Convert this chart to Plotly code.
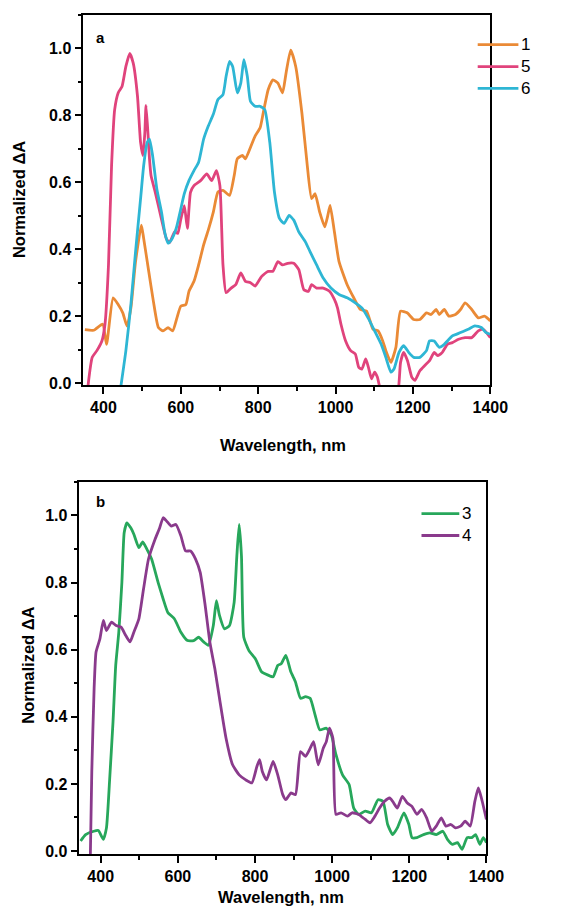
import plotly.graph_objects as go
from plotly.subplots import make_subplots

# ---- Panel a: spectra 1, 5, 6 ----
wl_1 = [352, 375, 398, 408, 425, 438, 450, 461, 471, 483, 498, 504, 517, 529, 542, 554, 567, 579,
        590, 600, 613, 621, 634, 646, 659, 671, 684, 696, 709, 726, 738, 746, 759, 767, 780, 792,
        805, 813, 826, 838, 851, 863, 872, 884, 897, 913, 926, 938, 947, 959, 972, 980, 986, 997,
        1009, 1030, 1047, 1064, 1080, 1097, 1110, 1122, 1130, 1143, 1156, 1168, 1185, 1202, 1218,
        1235, 1247, 1260, 1268, 1281, 1293, 1310, 1323, 1335, 1352, 1369, 1385, 1400]
dA_1 = [0.16, 0.158, 0.176, 0.116, 0.255, 0.235, 0.21, 0.17, 0.225, 0.363, 0.472, 0.432, 0.334,
        0.245, 0.166, 0.156, 0.166, 0.156, 0.195, 0.23, 0.235, 0.274, 0.304, 0.353, 0.413, 0.457,
        0.511, 0.571, 0.576, 0.561, 0.62, 0.67, 0.68, 0.67, 0.704, 0.738, 0.763, 0.807, 0.877,
        0.906, 0.896, 0.867, 0.926, 0.995, 0.946, 0.807, 0.66, 0.551, 0.566, 0.511, 0.467, 0.501,
        0.531, 0.452, 0.363, 0.294, 0.255, 0.22, 0.215, 0.161, 0.156, 0.126, 0.097, 0.062, 0.107,
        0.215, 0.21, 0.19, 0.19, 0.21, 0.205, 0.22, 0.205, 0.22, 0.2, 0.205, 0.22, 0.24, 0.22,
        0.195, 0.2, 0.186]

wl_5 = [355, 371, 383, 396, 404, 413, 421, 429, 438, 448, 458, 468, 477, 488, 496, 502, 507, 510,
        515, 519, 523, 534, 550, 563, 571, 584, 592, 600, 609, 617, 625, 634, 651, 667, 680, 692,
        701, 709, 717, 730, 742, 755, 767, 780, 792, 809, 826, 838, 851, 863, 876, 892, 905, 918,
        930, 938, 951, 968, 985, 997, 1005, 1014, 1026, 1039, 1051, 1060, 1068, 1078, 1085, 1093,
        1101, 1108, 1116, 1140, 1162, 1168, 1176, 1186, 1197, 1205, 1218, 1230, 1243, 1255, 1264,
        1276, 1289, 1302, 1318, 1335, 1352, 1369, 1381, 1400]
dA_5 = [-0.06, 0.077, 0.097, 0.126, 0.176, 0.353, 0.65, 0.817, 0.867, 0.886, 0.946, 0.985, 0.956,
        0.857, 0.719, 0.68, 0.748, 0.83, 0.748, 0.67, 0.62, 0.57, 0.49, 0.43, 0.42, 0.452, 0.447,
        0.49, 0.53, 0.462, 0.57, 0.59, 0.605, 0.625, 0.605, 0.635, 0.59, 0.353, 0.27, 0.284, 0.294,
        0.329, 0.304, 0.3, 0.29, 0.319, 0.334, 0.334, 0.363, 0.353, 0.358, 0.358, 0.339, 0.279,
        0.274, 0.294, 0.284, 0.284, 0.274, 0.25, 0.225, 0.176, 0.126, 0.097, 0.087, 0.047, 0.042,
        0.072, 0.047, 0.013, 0.033, 0.018, -0.02, -0.08, -0.02, 0.062, 0.092, 0.067, 0.018, 0.008,
        0.037, 0.052, 0.067, 0.092, 0.082, 0.092, 0.116, 0.121, 0.131, 0.136, 0.136, 0.156,
        0.161, 0.136]

wl_6 = [440, 458, 471, 483, 496, 504, 513, 519, 527, 538, 550, 559, 567, 575, 588, 600, 609, 621,
        634, 646, 659, 671, 684, 696, 709, 717, 726, 734, 746, 755, 763, 772, 780, 792, 805, 817,
        830, 842, 855, 867, 880, 892, 905, 922, 934, 951, 968, 988, 1009, 1030, 1051, 1068, 1084,
        1101, 1118, 1130, 1143, 1151, 1164, 1176, 1189, 1202, 1218, 1235, 1243, 1255, 1268, 1281,
        1302, 1323, 1343, 1360, 1377, 1389, 1400]
dA_6 = [-0.05, 0.097, 0.235, 0.393, 0.551, 0.65, 0.719, 0.729, 0.68, 0.58, 0.511, 0.447, 0.418,
        0.427, 0.462, 0.521, 0.566, 0.605, 0.635, 0.66, 0.729, 0.768, 0.803, 0.847, 0.862, 0.916,
        0.961, 0.946, 0.867, 0.896, 0.966, 0.916, 0.842, 0.827, 0.827, 0.817, 0.719, 0.571, 0.492,
        0.477, 0.501, 0.487, 0.452, 0.422, 0.393, 0.353, 0.314, 0.284, 0.265, 0.255, 0.24, 0.225,
        0.195, 0.156, 0.116, 0.077, 0.033, 0.042, 0.092, 0.112, 0.092, 0.077, 0.077, 0.097, 0.126,
        0.126, 0.107, 0.116, 0.141, 0.151, 0.161, 0.171, 0.166, 0.151, 0.146]

# ---- Panel b: spectra 3, 4 ----
wl_3 = [348, 361, 382, 394, 407, 415, 423, 432, 439, 447, 455, 461, 468, 478, 486, 499, 509, 520,
        532, 549, 562, 574, 591, 608, 625, 641, 654, 667, 679, 692, 700, 708, 721, 734, 746, 753,
        759, 765, 771, 784, 801, 817, 834, 847, 859, 868, 880, 893, 905, 918, 931, 943, 956, 968,
        985, 998, 1010, 1027, 1044, 1056, 1069, 1086, 1102, 1119, 1132, 1144, 1157, 1169, 1186,
        1199, 1207, 1220, 1237, 1253, 1270, 1287, 1299, 1312, 1325, 1337, 1350, 1362, 1372, 1383,
        1392, 1400]
dA_3 = [0.03, 0.049, 0.059, 0.061, 0.035, 0.069, 0.208, 0.385, 0.553, 0.652, 0.8, 0.949, 0.978,
        0.963, 0.944, 0.904, 0.921, 0.899, 0.87, 0.8, 0.751, 0.711, 0.692, 0.652, 0.627, 0.627,
        0.637, 0.623, 0.613, 0.672, 0.746, 0.702, 0.662, 0.672, 0.741, 0.879, 0.973, 0.879, 0.637,
        0.598, 0.573, 0.534, 0.524, 0.519, 0.553, 0.558, 0.583, 0.534, 0.504, 0.455, 0.46, 0.455,
        0.405, 0.361, 0.366, 0.346, 0.287, 0.227, 0.198, 0.128, 0.109, 0.119, 0.114, 0.153, 0.148,
        0.079, 0.049, 0.069, 0.114, 0.079, 0.04, 0.04, 0.049, 0.054, 0.049, 0.059, 0.035, 0.02,
        0.025, 0.005, 0.04, 0.04, 0.049, 0.02, 0.04, 0.025]

wl_4 = [373, 377, 383, 388, 398, 407, 415, 428, 440, 453, 465, 476, 486, 499, 511, 524, 541, 553,
        562, 571, 583, 595, 608, 620, 633, 646, 658, 671, 683, 696, 708, 725, 742, 759, 776, 792,
        805, 812, 819, 830, 847, 859, 872, 880, 893, 905, 918, 931, 943, 952, 964, 977, 985, 993,
        1002, 1010, 1023, 1040, 1052, 1069, 1086, 1098, 1111, 1123, 1136, 1149, 1157, 1169, 1182,
        1195, 1207, 1220, 1232, 1245, 1258, 1270, 1283, 1295, 1308, 1320, 1333, 1345, 1358, 1370,
        1379, 1387, 1400]
dA_4 = [-0.03, 0.237, 0.484, 0.593, 0.632, 0.687, 0.657, 0.682, 0.672, 0.667, 0.642, 0.623, 0.652,
        0.692, 0.78, 0.87, 0.929, 0.963, 0.993, 0.983, 0.968, 0.973, 0.939, 0.894, 0.894, 0.87,
        0.83, 0.731, 0.623, 0.543, 0.455, 0.336, 0.257, 0.227, 0.212, 0.203, 0.252, 0.272, 0.237,
        0.212, 0.267, 0.227, 0.168, 0.153, 0.173, 0.168, 0.296, 0.282, 0.306, 0.326, 0.257, 0.306,
        0.326, 0.366, 0.336, 0.109, 0.114, 0.104, 0.114, 0.109, 0.094, 0.084, 0.104, 0.128, 0.148,
        0.158, 0.148, 0.128, 0.163, 0.143, 0.133, 0.109, 0.124, 0.099, 0.059, 0.074, 0.099, 0.074,
        0.079, 0.069, 0.074, 0.089, 0.074, 0.148, 0.188, 0.158, 0.094]

x_ticks = [400, 600, 800, 1000, 1200, 1400]
y_ticks = [0.0, 0.2, 0.4, 0.6, 0.8, 1.0]

series_a = [("1", wl_1, dA_1, "#EA8A36"), ("5", wl_5, dA_5, "#E0437C"), ("6", wl_6, dA_6, "#2EB6D4")]
series_b = [("3", wl_3, dA_3, "#27A75B"), ("4", wl_4, dA_4, "#8A3A8C")]

W, H = 580, 920
LW = 2.8
fig = make_subplots(rows=2, cols=1)

for name, x, y, c in series_a:
    fig.add_trace(go.Scatter(x=x, y=y, mode="lines", name=name,
                             line=dict(color=c, width=LW, shape="spline", smoothing=0.5),
                             showlegend=False), row=1, col=1)
for name, x, y, c in series_b:
    fig.add_trace(go.Scatter(x=x, y=y, mode="lines", name=name,
                             line=dict(color=c, width=LW, shape="spline", smoothing=0.5),
                             showlegend=False), row=2, col=1)

tickfont = dict(family="Liberation Sans", size=16, color="black", weight="bold")
axis_common = dict(showline=True, linecolor="black", linewidth=1.6, mirror=True,
                   ticks="outside", ticklen=7, tickwidth=1.5, tickcolor="black",
                   showgrid=False, zeroline=False, tickfont=tickfont)

# pixel boxes of the two plotting areas (left, top, right, bottom)
box_a = (86, 15, 506, 388)
box_b = (82, 485, 502, 860)

def dom(box):
    l, t, r, b = box
    return [l / W, r / W], [1 - b / H, 1 - t / H]

xa, ya = dom(box_a)
xb, yb = dom(box_b)

minor_x = dict(dtick=100, tick0=0, ticks="outside", ticklen=4, tickcolor="black")
minor_y = dict(dtick=0.1, tick0=0, ticks="outside", ticklen=4, tickcolor="black")

fig.update_xaxes(domain=xa, range=[348, 1400], tickvals=x_ticks, minor=minor_x,
                 row=1, col=1, **axis_common)
fig.update_yaxes(domain=ya, range=[-0.007, 1.1], tickvals=y_ticks, tickformat=".1f",
                 minor=minor_y, row=1, col=1, **axis_common)
fig.update_xaxes(domain=xb, range=[345, 1400], tickvals=x_ticks, minor=minor_x,
                 row=2, col=1, **axis_common)
fig.update_yaxes(domain=yb, range=[-0.01, 1.1], tickvals=y_ticks, tickformat=".1f",
                 minor=minor_y, row=2, col=1, **axis_common)

title_font = dict(family="Liberation Sans", size=16.5, color="black", weight="bold")
ann = []

def px(x, y):
    return x / W, 1 - y / H

# axis titles
for (x, y, text, ang) in [(292, 448, "Wavelength, nm", 0), (290, 903, "Wavelength, nm", 0),
                          (19, 201, "Normalized \u0394A", -90), (28, 670, "Normalized \u0394A", -90)]:
    xp, yp = px(x, y)
    ann.append(dict(x=xp, y=yp, xref="paper", yref="paper", text=text, showarrow=False,
                    textangle=ang, font=title_font, xanchor="center", yanchor="middle"))

# panel letters
for (x, y, t) in [(104, 38, "a"), (104, 505, "b")]:
    xp, yp = px(x, y)
    ann.append(dict(x=xp, y=yp, xref="paper", yref="paper", text=t, showarrow=False,
                    font=dict(family="Liberation Sans", size=15, color="black", weight="bold"),
                    xanchor="center", yanchor="middle"))

# legends: swatch line + label
shapes = []
leg_a = dict(x0=493, x1=535, y0=45, dy=22)
leg_b = dict(x0=435, x1=474, y0=517, dy=22)
for leg, series in [(leg_a, series_a), (leg_b, series_b)]:
    for i, (name, _, _, c) in enumerate(series):
        yy = leg["y0"] + i * leg["dy"]
        x0p, yp = px(leg["x0"], yy)
        x1p, _ = px(leg["x1"], yy)
        shapes.append(dict(type="line", xref="paper", yref="paper", x0=x0p, x1=x1p, y0=yp, y1=yp,
                           line=dict(color=c, width=LW)))
        ann.append(dict(x=x1p + 1 / W, y=yp, xref="paper", yref="paper", text=name,
                        showarrow=False, xanchor="left", yanchor="middle",
                        font=dict(family="Liberation Sans", size=17, color="black")))

fig.update_layout(width=W, height=H, margin=dict(l=0, r=0, t=0, b=0),
                  paper_bgcolor="white", plot_bgcolor="white",
                  annotations=ann, shapes=shapes, showlegend=False)

fig.write_html("out.html")
